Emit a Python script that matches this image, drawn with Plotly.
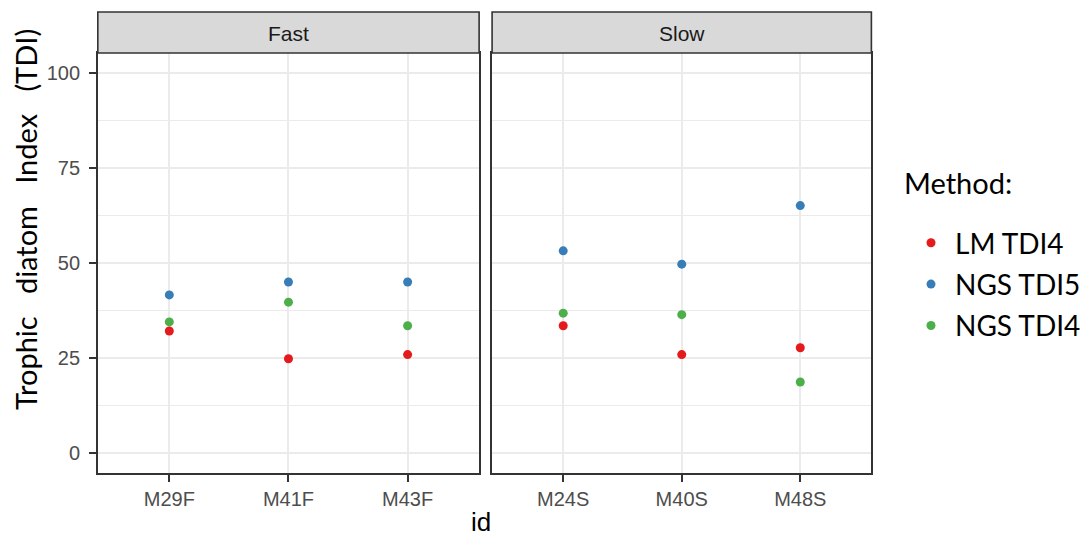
import plotly.graph_objects as go

# ---- data -------------------------------------------------------------
fast_ids = ["M29F", "M41F", "M43F"]
slow_ids = ["M24S", "M40S", "M48S"]
methods = ["LM TDI4", "NGS TDI5", "NGS TDI4"]

lm_tdi4_fast = [32.1, 24.8, 25.9]
lm_tdi4_slow = [33.5, 25.9, 27.7]
ngs_tdi5_fast = [41.6, 45.0, 45.0]
ngs_tdi5_slow = [53.2, 49.7, 65.1]
ngs_tdi4_fast = [34.5, 39.7, 33.5]
ngs_tdi4_slow = [36.8, 36.4, 18.7]

y_ticks = [0, 25, 50, 75, 100]

# ---- styling ----------------------------------------------------------
W, H = 1086, 538
colors = {"LM TDI4": "#E41A1C", "NGS TDI5": "#377EB8", "NGS TDI4": "#4DAF4A"}
grid = "#EBEBEB"
dark = "#333333"
tick_font = dict(family="Liberation Sans, Arial, sans-serif", size=20, color="#4D4D4D")
cal_font = "Lato, sans-serif"


def px_x(p):
    return p / W


def px_y(p):
    return (H - p) / H


left_dom = [px_x(98), px_x(480)]
right_dom = [px_x(493), px_x(873)]
y_dom = [px_y(473), px_y(53)]

series = {
    "LM TDI4": (lm_tdi4_fast, lm_tdi4_slow),
    "NGS TDI5": (ngs_tdi5_fast, ngs_tdi5_slow),
    "NGS TDI4": (ngs_tdi4_fast, ngs_tdi4_slow),
}

fig = go.Figure()
for m in methods:
    fast_vals, slow_vals = series[m]
    fig.add_trace(go.Scatter(
        x=fast_ids, y=fast_vals, mode="markers", name=m, legendgroup=m,
        marker=dict(color=colors[m], size=9), xaxis="x", yaxis="y",
    ))
    fig.add_trace(go.Scatter(
        x=slow_ids, y=slow_vals, mode="markers", name=m, legendgroup=m,
        showlegend=False, marker=dict(color=colors[m], size=9),
        xaxis="x2", yaxis="y2",
    ))

common_x = dict(
    type="category", range=[-0.6, 2.6], showgrid=True, gridcolor=grid,
    gridwidth=1.5, showline=True, mirror=True, linecolor=dark, linewidth=1.6,
    ticks="outside", ticklen=7, tickwidth=1.5, tickcolor=dark,
    tickfont=tick_font, zeroline=False, fixedrange=True,
)
common_y = dict(
    range=[-5.26, 105.26], tickmode="array", tickvals=y_ticks,
    showgrid=True, gridcolor=grid, gridwidth=1.5,
    minor=dict(tickmode="array", tickvals=[12.5, 37.5, 62.5, 87.5],
               showgrid=True, gridcolor=grid, gridwidth=1, ticks=""),
    showline=True, mirror=True, linecolor=dark, linewidth=1.6,
    zeroline=False, fixedrange=True,
)

fig.update_layout(
    width=W, height=H,
    margin=dict(l=0, r=0, t=0, b=0),
    paper_bgcolor="white", plot_bgcolor="white",
    xaxis=dict(domain=left_dom, anchor="y", categoryarray=fast_ids,
               categoryorder="array", **common_x),
    xaxis2=dict(domain=right_dom, anchor="y2", categoryarray=slow_ids,
                categoryorder="array", **common_x),
    yaxis=dict(domain=y_dom, anchor="x", ticks="outside", ticklen=7,
               tickwidth=1.5, tickcolor=dark, tickfont=tick_font,
               ticklabelstandoff=5, **common_y),
    yaxis2=dict(domain=y_dom, anchor="x2", showticklabels=False, ticks="",
                **common_y),
    showlegend=True,
    legend=dict(
        x=px_x(909), y=px_y(218), xanchor="left", yanchor="top",
        font=dict(family=cal_font, size=28, color="black"),
        bgcolor="rgba(0,0,0,0)", tracegroupgap=2, itemsizing="trace",
        itemwidth=38,
    ),
)

# facet strips
for dom, label in [(left_dom, "Fast"), (right_dom, "Slow")]:
    fig.add_shape(type="rect", xref="paper", yref="paper",
                  x0=dom[0], x1=dom[1], y0=px_y(53), y1=px_y(12),
                  fillcolor="#D9D9D9", line=dict(color=dark, width=1.6))
    fig.add_annotation(text=label, xref="paper", yref="paper",
                       x=(dom[0] + dom[1]) / 2, y=px_y(33), showarrow=False,
                       xanchor="center", yanchor="middle",
                       font=dict(family="Liberation Sans, Arial, sans-serif",
                                 size=21, color="#1A1A1A"))

# axis titles and legend heading
fig.add_annotation(text="id", xref="paper", yref="paper", x=px_x(482),
                   y=px_y(522), showarrow=False, xanchor="center",
                   yanchor="middle",
                   font=dict(family="Liberation Sans, Arial, sans-serif",
                             size=26, color="black"))
sp = "\u00a0" * 3
fig.add_annotation(text=f"Trophic{sp}diatom{sp}Index{sp}(TDI)",
                   xref="paper", yref="paper", x=px_x(25), y=px_y(219),
                   textangle=-90, showarrow=False, xanchor="center",
                   yanchor="middle",
                   font=dict(family=cal_font, size=29, color="black"))
fig.add_annotation(text="Method:", xref="paper", yref="paper", x=px_x(904),
                   y=px_y(182), showarrow=False, xanchor="left",
                   yanchor="middle",
                   font=dict(family=cal_font, size=29, color="black"))

fig.write_html("out.html")
